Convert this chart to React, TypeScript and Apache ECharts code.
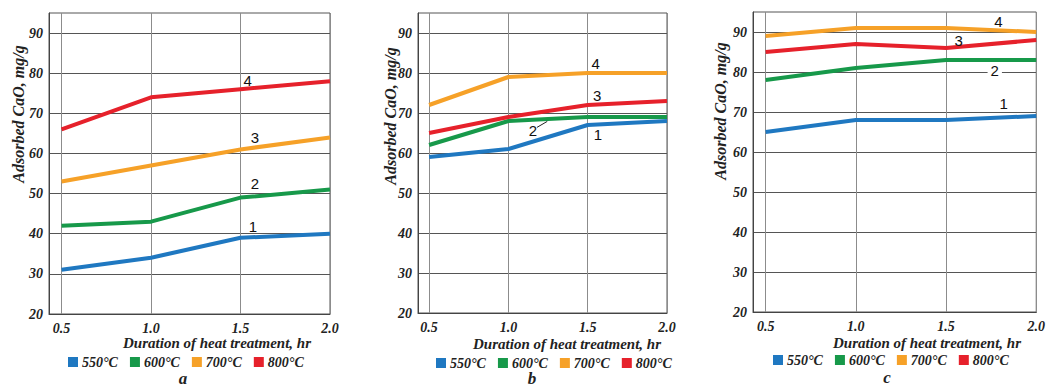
import React, { useEffect, useRef } from "react";
import * as echarts from "echarts";

const durations = [0.5, 1.0, 1.5, 2.0];
const temps = ["550°C", "600°C", "700°C", "800°C"];
const yTicks = [20, 30, 40, 50, 60, 70, 80, 90];

// panel a
const a550 = [31, 34, 39, 40];
const a600 = [42, 43, 49, 51];
const a700 = [53, 57, 61, 64];
const a800 = [66, 74, 76, 78];
// panel b
const b550 = [59, 61, 67, 68];
const b600 = [62, 68, 69, 69];
const b700 = [72, 79, 80, 80];
const b800 = [65, 69, 72, 73];
// panel c
const c550 = [65, 68, 68, 69];
const c600 = [78, 81, 83, 83];
const c700 = [89, 91, 91, 90];
const c800 = [85, 87, 86, 88];

// curve number labels (text, data coordinates) for 550, 600, 700, 800
const aCurveLabels = ["1", "2", "3", "4"];
const aCurvePos = [[1.57, 41.7], [1.58, 52.4], [1.58, 64.1], [1.54, 78.3]];
const bCurveLabels = ["1", "2", "4", "3"];
const bCurvePos = [[1.565, 64.75], [1.155, 65.75], [1.55, 82.5], [1.56, 74.5]];
const cCurveLabels = ["1", "2", "4", "3"];
const cCurvePos = [[1.82, 72.1], [1.77, 80.5], [1.79, 92.7], [1.57, 88.0]];

const colors = ["#1f78c1", "#17994a", "#f6a128", "#e6212b"];
const SERIF = '"Liberation Serif", "Times New Roman", serif';
const SANS = '"Liberation Sans", Arial, sans-serif';

const grids = [
  { left: 49, top: 13, width: 281, height: 301 },
  { left: 418, top: 13, width: 249, height: 300 },
  { left: 753, top: 12, width: 289, height: 300 },
];

export default function App() {
  const ref = useRef<HTMLDivElement>(null);
  useEffect(() => {
    if (!ref.current) return;
    const chart = echarts.init(ref.current, undefined, { renderer: "svg" });
    const panels = [
      { vals: [a550, a600, a700, a800], labels: aCurveLabels, pos: aCurvePos },
      { vals: [b550, b600, b700, b800], labels: bCurveLabels, pos: bCurvePos },
      { vals: [c550, c600, c700, c800], labels: cCurveLabels, pos: cCurvePos },
    ];
    const tickFont = {
      fontFamily: SERIF,
      fontStyle: "italic" as const,
      fontWeight: "bold" as const,
      fontSize: 14,
      color: "#222",
    };
    const xAxis = grids.map((_, i) => ({
      type: "value",
      gridIndex: i,
      min: 0.43,
      max: 2.0,
      axisLine: { show: true, lineStyle: { color: "#444", width: 1 } },
      axisTick: { show: false, customValues: durations },
      axisLabel: {
        ...tickFont,
        customValues: durations,
        margin: 7,
        formatter: (v: number) => v.toFixed(1),
      },
      splitLine: { show: true, lineStyle: { color: "#8c8c8c", width: 1 } },
    }));
    const yAxis = grids.map((_, i) => ({
      type: "value",
      gridIndex: i,
      min: 20,
      max: 95,
      axisLine: { show: true, lineStyle: { color: "#444", width: 1 } },
      axisTick: { show: false, customValues: yTicks },
      axisLabel: { ...tickFont, customValues: yTicks, margin: 6 },
      splitLine: { show: true, lineStyle: { color: "#555", width: 1 } },
    }));
    const series: any[] = [];
    panels.forEach((p, pi) => {
      p.vals.forEach((vals, si) => {
        const s: any = {
          type: "line",
          name: temps[si],
          xAxisIndex: pi,
          yAxisIndex: pi,
          data: durations.map((d, k) => [d, vals[k]]),
          symbol: "none",
          lineStyle: { width: 4, color: colors[si] },
          itemStyle: { color: colors[si] },
          z: 3,
          markPoint: {
            symbol: "circle",
            symbolSize: 1,
            itemStyle: { color: "rgba(0,0,0,0)" },
            label: {
              show: true,
              position: "inside",
              formatter: p.labels[si],
              color: "#111",
              fontFamily: SANS,
              fontSize: 15,
              backgroundColor: pi === 2 && si === 1 ? "#fff" : "transparent",
              padding: [0, 3],
            },
            data: [{ coord: p.pos[si] }],
          },
        };
        if (pi === 1 && si === 1) {
          s.markLine = {
            symbol: "none",
            silent: true,
            label: { show: false },
            lineStyle: { color: "#222", width: 1, type: "solid" },
            data: [[{ coord: [1.18, 66.4] }, { coord: [1.245, 67.9] }]],
          };
        }
        series.push(s);
      });
    });
    const legendCfg = (left: number, top: number) => ({
      left,
      top,
      data: temps,
      icon: "rect",
      itemWidth: 10,
      itemHeight: 10,
      itemGap: 12,
      selectedMode: false,
      textStyle: { ...tickFont, padding: [0, 0, 0, -1] },
    });
    const text = (t: string, x: number, y: number, size: number, rot = 0, bold = true) => ({
      type: "text",
      x,
      y,
      rotation: rot,
      style: {
        text: t,
        fontFamily: SERIF,
        fontStyle: "italic",
        fontWeight: bold ? "bold" : "normal",
        fontSize: size,
        fill: "#222",
        textAlign: "center",
        textVerticalAlign: "middle",
      },
    });
    chart.setOption({
      animation: false,
      backgroundColor: "#fff",
      grid: grids.map((g) => ({ ...g, show: true, borderColor: "#555", borderWidth: 1, backgroundColor: "transparent" })),
      xAxis,
      yAxis,
      series,
      legend: [legendCfg(63, 350), legendCfg(431, 351), legendCfg(768, 348)],
      graphic: [
        text("Adsorbed CaO, mg/g", 18, 114, 16, Math.PI / 2),
        text("Adsorbed CaO, mg/g", 390, 116, 16, Math.PI / 2),
        text("Adsorbed CaO, mg/g", 720, 111, 16, Math.PI / 2),
        text("Duration of heat treatment, hr", 217, 343, 15),
        text("Duration of heat treatment, hr", 567, 344, 15),
        text("Duration of heat treatment, hr", 927, 343, 15),
        text("a", 183, 378, 17),
        text("b", 532, 378, 17),
        text("c", 887, 377, 17),
      ],
    });
    return () => chart.dispose();
  }, []);
  return (
    <div
      ref={ref}
      style={{ position: "fixed", left: 0, top: 0, width: 1048, height: 388, background: "#fff" }}
    />
  );
}
